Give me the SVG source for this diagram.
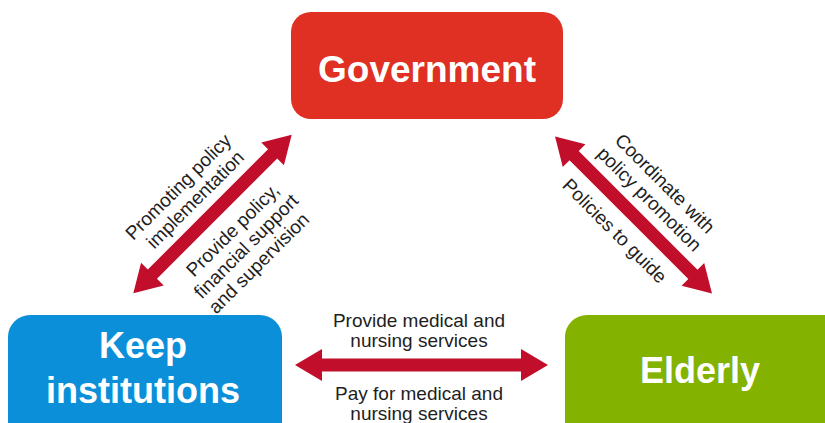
<svg xmlns="http://www.w3.org/2000/svg" width="825" height="423" viewBox="0 0 825 423">
  <style>
    .node-title { font-family: "Liberation Sans", Arial, sans-serif; font-weight: bold; fill: #ffffff; text-anchor: middle; }
    .label { font-family: "Liberation Sans", Arial, sans-serif; font-size: 19px; fill: #1e1e1e; text-anchor: middle; }
    .arrow { fill: #c10e2b; }
  </style>
  <rect width="825" height="423" fill="#ffffff"/>

  <!-- connectors: double-headed arrows with their labels -->
  <g id="connectors">
    <!-- Keep institutions <-> Government -->
    <g transform="translate(212.5 214) rotate(-45)">
      <polygon class="arrow" points="-112,0 -85,-16 -85,-6.5 85,-6.5 85,-16 112,0 85,16 85,6.5 -85,6.5 -85,16"/>
      <text class="label" x="-5" y="-37">Promoting policy</text>
      <text class="label" x="-2" y="-16">implementation</text>
      <text class="label" x="3" y="32">Provide policy,</text>
      <text class="label" x="1" y="53">financial support</text>
      <text class="label" x="-2" y="74">and supervision</text>
    </g>
    <!-- Government <-> Elderly -->
    <g transform="translate(633.5 215) rotate(45)">
      <polygon class="arrow" points="-111,0 -84,-16 -84,-6.5 84,-6.5 84,-16 111,0 84,16 84,6.5 -84,6.5 -84,16"/>
      <text class="label" x="0" y="-38">Coordinate with</text>
      <text class="label" x="0" y="-16">policy promotion</text>
      <text class="label" x="-2" y="31">Policies to guide</text>
    </g>
    <!-- Keep institutions <-> Elderly -->
    <g transform="translate(421.5 365)">
      <polygon class="arrow" points="-126.5,0 -99.5,-16 -99.5,-6.5 99.5,-6.5 99.5,-16 126.5,0 99.5,16 99.5,6.5 -99.5,6.5 -99.5,16"/>
    </g>
    <text class="label" x="419" y="327">Provide medical and</text>
    <text class="label" x="419" y="347">nursing services</text>
    <text class="label" x="419" y="400">Pay for medical and</text>
    <text class="label" x="419" y="420">nursing services</text>
  </g>

  <g id="government">
    <rect x="291" y="12" width="272" height="107" rx="20" fill="#e02f23"/>
    <text class="node-title" x="427" y="82" font-size="37">Government</text>
  </g>

  <g id="keep-institutions">
    <rect x="8" y="315" width="274" height="130" rx="22" fill="#0b8fd8"/>
    <text class="node-title" x="143" y="358" font-size="36">Keep</text>
    <text class="node-title" x="143" y="403" font-size="36">institutions</text>
  </g>

  <g id="elderly">
    <rect x="565" y="315" width="280" height="130" rx="22" fill="#84b200"/>
    <text class="node-title" x="700" y="383" font-size="36">Elderly</text>
  </g>
</svg>
